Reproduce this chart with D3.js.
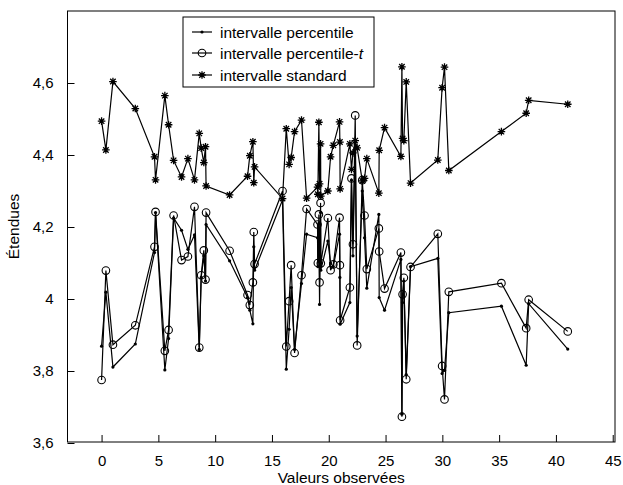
<!DOCTYPE html>
<html>
<head>
<meta charset="utf-8">
<script src="https://cdn.jsdelivr.net/npm/d3@7"></script>
<style>
  body { margin: 0; background: #fff; }
  svg { font-family: "Liberation Sans", Arial, sans-serif; }
</style>
</head>
<body>
<div id="chart"></div>
<script>
(function() {

  // observed values (shared x)
  var valeurs = [0, 0.38, 1.0, 2.97, 4.66, 4.75, 5.57, 5.9, 6.34, 7.04, 7.6, 8.18, 8.6, 8.77, 9.0, 9.15, 9.2,
    11.27, 12.85, 13.05, 13.32, 13.4, 13.47, 15.93, 16.26, 16.51, 16.69, 16.99, 17.6, 18.05, 19.01, 19.04,
    19.13, 19.19, 19.28, 19.3, 19.92, 20.16, 20.4, 20.95, 20.98, 21.0, 21.86, 22.0, 22.13, 22.33, 22.5,
    22.95, 23.15, 23.35, 24.41, 24.44, 24.91, 26.35, 26.44, 26.5, 26.61, 26.82, 27.2, 29.6, 29.98, 30.19,
    30.57, 35.2, 37.38, 37.6, 41.04];

  var standard = [4.494, 4.414, 4.604, 4.529, 4.395, 4.331, 4.565, 4.484, 4.385, 4.339, 4.39, 4.331, 4.46,
    4.419, 4.379, 4.423, 4.314, 4.289, 4.341, 4.398, 4.437, 4.323, 4.367, 4.279, 4.473, 4.374, 4.393, 4.465,
    4.497, 4.28, 4.311, 4.291, 4.491, 4.32, 4.431, 4.286, 4.30, 4.395, 4.427, 4.492, 4.436, 4.306, 4.431,
    4.36, 4.406, 4.44, 4.42, 4.328, 4.335, 4.39, 4.294, 4.413, 4.476, 4.396, 4.645, 4.446, 4.44, 4.603,
    4.322, 4.386, 4.587, 4.644, 4.357, 4.465, 4.516, 4.552, 4.541];

  var percentileT = [3.775, 4.079, 3.873, 3.927, 4.145, 4.242, 3.856, 3.914, 4.232, 4.108, 4.118, 4.256, 3.865,
    4.066, 4.135, 4.054, 4.24, 4.134, 4.011, 3.983, 4.046, 4.186, 4.097, 4.30, 3.868, 3.994, 4.094, 3.85,
    4.066, 4.25, 4.207, 4.10, 4.235, 4.046, 4.267, 4.099, 4.225, 4.08, 4.096, 4.226, 4.094, 3.941, 4.032,
    4.335, 4.152, 4.51, 3.871, 4.33, 4.232, 4.083, 4.196, 4.132, 4.029, 4.129, 3.673, 4.013, 4.059, 3.777,
    4.089, 4.181, 3.814, 3.721, 4.020, 4.044, 3.919, 3.998, 3.910];

  var percentile = [3.869, 4.019, 3.811, 3.875, 4.129, 4.24, 3.803, 3.89, 4.225, 4.191, 4.138, 4.178, 3.86,
    4.06, 4.12, 4.05, 4.207, 4.106, 4.004, 3.969, 3.931, 4.145, 4.08, 4.275, 3.805, 3.916, 4.032, 3.86,
    4.043, 4.18, 4.17, 4.09, 4.21, 3.985, 4.24, 4.08, 4.161, 4.10, 4.09, 4.18, 4.06, 3.93, 3.99, 4.33,
    4.12, 4.44, 3.897, 4.30, 4.17, 4.03, 4.235, 4.004, 3.969, 4.11, 3.68, 3.99, 4.05, 3.79, 4.09, 4.113,
    3.793, 3.802, 3.962, 3.98, 3.816, 3.987, 3.861];

  var xTicks = [0, 5, 10, 15, 20, 25, 30, 35, 40, 45];
  var yTicks = [3.6, 3.8, 4.0, 4.2, 4.4, 4.6];

  var width = 623, height = 485;
  var left = 67.5, right = 615, top = 11, bottom = 442;

  var x = d3.scaleLinear().domain([-3, 45.2]).range([left, right]);
  var y = d3.scaleLinear().domain([3.6, 4.6]).range([bottom + 1, bottom + 1 - 360]);

  var svg = d3.select('#chart')
    .append('svg')
    .attr('width', width)
    .attr('height', height);

  // axes, ticks inside
  var fmt = function(d) { return d3.format('.1f')(d).replace('.0', '').replace('.', ','); };

  var xAxis = svg.append('g')
    .attr('transform', 'translate(0,' + bottom + ')')
    .call(d3.axisBottom(x).tickValues(xTicks).tickSizeInner(-7).tickSizeOuter(0).tickPadding(13));

  var yAxis = svg.append('g')
    .attr('transform', 'translate(' + left + ',0)')
    .call(d3.axisLeft(y).tickValues(yTicks).tickFormat(fmt).tickSizeInner(-7).tickSizeOuter(0).tickPadding(14));

  [xAxis, yAxis].forEach(function(a) {
    a.select('.domain').remove();
    a.selectAll('line').attr('stroke', '#000');
    a.selectAll('text').style('font-size', '15px').style('font-family', '"Liberation Sans", Arial, sans-serif').attr('fill', '#000');
  });

  // frame
  svg.append('rect')
    .attr('x', left).attr('y', top)
    .attr('width', right - left).attr('height', bottom - top)
    .attr('fill', 'none').attr('stroke', '#000').attr('stroke-width', 1);

  svg.append('text')
    .attr('x', (left + right) / 2).attr('y', 483)
    .attr('text-anchor', 'middle')
    .style('font-size', '15.5px')
    .text('Valeurs observées');

  svg.append('text')
    .attr('transform', 'translate(19,' + ((top + bottom) / 2) + ') rotate(-90)')
    .attr('text-anchor', 'middle')
    .style('font-size', '15.5px')
    .text('Étendues');

  var line = d3.line()
    .x(function(d) { return x(d[0]); })
    .y(function(d) { return y(d[1]); });

  function pairs(vals) {
    return valeurs.map(function(v, i) { return [v, vals[i]]; });
  }

  var series = [
    { vals: standard, marker: 'star' },
    { vals: percentileT, marker: 'circle' },
    { vals: percentile, marker: 'dot' }
  ];

  var plot = svg.append('g');

  series.forEach(function(s) {
    plot.append('path')
      .datum(pairs(s.vals))
      .attr('d', line)
      .attr('fill', 'none')
      .attr('stroke', '#000')
      .attr('stroke-width', 1.2);
  });

  function drawMarker(g, type, cx, cy) {
    if (type === 'circle') {
      g.append('circle').attr('cx', cx).attr('cy', cy).attr('r', 3.8)
        .attr('fill', 'none').attr('stroke', '#000').attr('stroke-width', 1.1);
    } else if (type === 'dot') {
      g.append('circle').attr('cx', cx).attr('cy', cy).attr('r', 1.6).attr('fill', '#000');
    } else {
      var r = 3.8, d = r * 0.72;
      var p = 'M' + (cx - r) + ',' + cy + 'h' + (2 * r) +
              'M' + cx + ',' + (cy - r) + 'v' + (2 * r) +
              'M' + (cx - d) + ',' + (cy - d) + 'l' + (2 * d) + ',' + (2 * d) +
              'M' + (cx - d) + ',' + (cy + d) + 'l' + (2 * d) + ',' + (-2 * d);
      g.append('path').attr('d', p).attr('stroke', '#000').attr('stroke-width', 1.3).attr('fill', 'none');
    }
  }

  series.forEach(function(s) {
    var g = plot.append('g');
    pairs(s.vals).forEach(function(d) {
      drawMarker(g, s.marker, x(d[0]), y(d[1]));
    });
  });

  // legend
  var legend = svg.append('g');
  var lx = 183, ly = 17, lw = 191, lh = 70;
  legend.append('rect')
    .attr('x', lx).attr('y', ly).attr('width', lw).attr('height', lh)
    .attr('fill', '#fff').attr('stroke', '#000').attr('stroke-width', 1);

  var entries = [
    { label: 'intervalle percentile', marker: 'dot', cy: 32 },
    { label: 'intervalle percentile-', italic: 't', marker: 'circle', cy: 53 },
    { label: 'intervalle standard', marker: 'star', cy: 75 }
  ];

  entries.forEach(function(e) {
    legend.append('line')
      .attr('x1', 192).attr('x2', 212).attr('y1', e.cy).attr('y2', e.cy)
      .attr('stroke', '#000').attr('stroke-width', 1.2);
    drawMarker(legend, e.marker, 202, e.cy);
    var t = legend.append('text')
      .attr('x', 220).attr('y', e.cy + 5.5)
      .style('font-size', '15.5px')
      .text(e.label);
    if (e.italic) t.append('tspan').style('font-style', 'italic').text(e.italic);
  });

})();
</script>
</body>
</html>
